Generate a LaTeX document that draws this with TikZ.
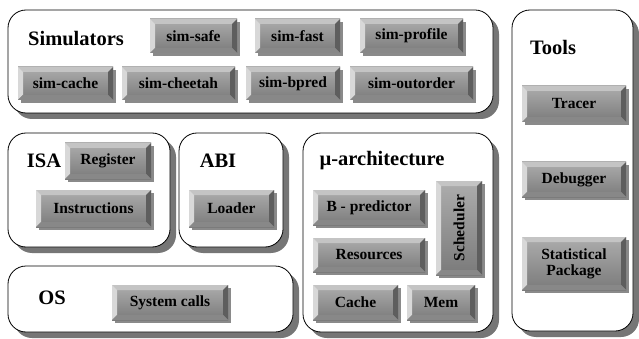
\documentclass[tikz,border=0pt]{standalone}
\usepackage{fontspec}
\setmainfont{Liberation Serif}
\usetikzlibrary{calc}
\definecolor{bevtop}{HTML}{C4C4C4}
\definecolor{bevleft}{HTML}{D8D8D8}
\definecolor{bevright}{HTML}{5E5E5E}
\definecolor{bevbot}{HTML}{888888}
\definecolor{facetop}{HTML}{ADADAD}
\definecolor{facebot}{HTML}{7A7A7A}
\definecolor{btnshadow}{HTML}{8A8A8A}
\definecolor{boxshadow}{HTML}{767676}
\tikzset{
  btntext/.style={font=\fontsize{15.5}{16}\selectfont\bfseries, text=black, inner sep=0pt, align=center},
  titletext/.style={font=\fontsize{20.5}{22}\selectfont\bfseries, text=black, inner sep=0pt},
  boxline/.style={draw=black, line width=0.8pt, fill=white, rounded corners=18pt},
  boxshade/.style={fill=boxshadow, rounded corners=18pt},
}
% name, x1, y1, x2, y2, text, rotation
\newcommand\bevbtn[7]{%
  \fill[btnshadow] (#2+3,#3+3) rectangle (#4+3,#5+3);
  \shade[top color=facetop, bottom color=facebot] (#2,#3) rectangle (#4,#5);
  \fill[bevtop] (#2,#3) -- (#4,#3) -- (#4-5,#3+5) -- (#2+5,#3+5) -- cycle;
  \fill[bevleft] (#2,#3) -- (#2+5,#3+5) -- (#2+5,#5-5) -- (#2,#5) -- cycle;
  \fill[bevright] (#4,#3) -- (#4,#5) -- (#4-5,#5-5) -- (#4-5,#3+5) -- cycle;
  \fill[bevbot] (#2,#5) -- (#4,#5) -- (#4-5,#5-5) -- (#2+5,#5-5) -- cycle;
  \node[btntext, rotate=#7] (#1) at ({(#2+#4)/2},{(#3+#5)/2}) {#6};
}
% name, x1, y1, x2, y2
\newcommand\container[5]{%
  \fill[boxshade] (#2+6,#3+6) rectangle (#4+6,#5+6);
  \node[boxline, inner sep=0pt, minimum width={(#4-#2)*1pt}, minimum height={(#5-#3)*1pt}] (#1) at ({(#2+#4)/2},{(#3+#5)/2}) {};
}
\begin{document}
\begin{tikzpicture}[x=1pt, y=-1pt]
\useasboundingbox (0,0) rectangle (639,339);
\fill[white] (0,0) rectangle (639,339);

% containers
\container{sim}{8}{10}{493}{113}
\container{tools}{512}{10}{633}{331}
\container{isa}{8}{133}{170}{247}
\container{abi}{179}{133}{283}{247}
\container{os}{8}{266}{293}{332}
\container{uarch}{303}{133}{493}{332}

% titles
\node[titletext] (simT) at (76,39) {Simulators};
\node[titletext] (toolsT) at (553,47) {Tools};
\node[titletext] (isaT) at (44,161) {ISA};
\node[titletext] (abiT) at (218,161) {ABI};
\node[titletext] (osT) at (52,298) {OS};
\node[titletext] (uarchT) at (382,161) {µ-architecture};

% buttons
\bevbtn{simsafe}{150}{19}{237}{53}{sim-safe}{0}
\bevbtn{simfast}{255}{19}{340}{53}{sim-fast}{0}
\bevbtn{simprofile}{360}{19}{463}{53}{sim-profile}{0}
\bevbtn{simcache}{18}{67}{113}{100}{sim-cache}{0}
\bevbtn{simcheetah}{122}{67}{235}{100}{sim-cheetah}{0}
\bevbtn{simbpred}{246}{67}{340}{100}{sim-bpred}{0}
\bevbtn{simoutorder}{350}{67}{473}{100}{sim-outorder}{0}
\bevbtn{tracer}{522}{86}{626}{122}{Tracer}{0}
\bevbtn{register}{65}{143}{151}{179}{Register}{0}
\bevbtn{instructions}{36}{190}{151}{227}{Instructions}{0}
\bevbtn{loader}{189}{190}{274}{227}{Loader}{0}
\bevbtn{syscalls}{112}{285}{228}{320}{System calls}{0}
\bevbtn{bpredictor}{313}{190}{425}{225}{B - predictor}{0}
\bevbtn{resources}{313}{238}{425}{272}{Resources}{0}
\bevbtn{scheduler}{436}{181}{482}{275}{Scheduler}{90}
\bevbtn{cache}{313}{285}{398}{320}{Cache}{0}
\bevbtn{mem}{407}{285}{475}{320}{Mem}{0}
\bevbtn{debugger}{522}{162}{626}{197}{Debugger}{0}
\bevbtn{statpkg}{522}{237}{626}{290}{Statistical\\Package}{0}
\end{tikzpicture}
\end{document}
